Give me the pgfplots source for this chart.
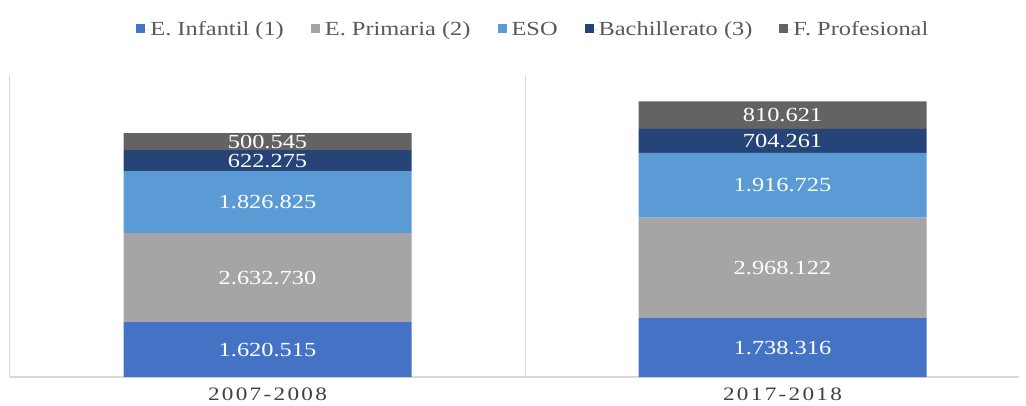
\documentclass[border=0pt]{standalone}
\usepackage{pgfplots}
\usepackage{pgfplotstable}
\pgfplotsset{compat=1.18}
\usepackage{fontspec}
\setmainfont[FakeStretch=1.22]{Liberation Serif}
\definecolor{cInf}{HTML}{4472C4}
\definecolor{cPri}{HTML}{A5A5A5}
\definecolor{cESO}{HTML}{5B9BD5}
\definecolor{cBac}{HTML}{264478}
\definecolor{cFP}{HTML}{636363}
\definecolor{gridgray}{HTML}{D9D9D9}
\definecolor{txtgray}{HTML}{595959}

\pgfplotstableread{
x y label
0 1.620515 1.620.515
1 1.738316 1.738.316
}\infantil
\pgfplotstableread{
x y label
0 2.632730 2.632.730
1 2.968122 2.968.122
}\primaria
\pgfplotstableread{
x y label
0 1.826825 1.826.825
1 1.916725 1.916.725
}\eso
\pgfplotstableread{
x y label
0 0.622275 622.275
1 0.704261 704.261
}\bach
\pgfplotstableread{
x y label
0 0.500545 500.545
1 0.810621 810.621
}\fp

\newcommand{\ls}{\kern2.3pt}
\begin{document}
\begin{tikzpicture}
\begin{axis}[
  scale only axis,
  width=1009.4pt, height=302pt,
  xmin=-0.5, xmax=1.46,
  ymin=0, ymax=8.92,
  ybar stacked,
  bar width=288pt,
  axis y line=none,
  axis x line*=bottom,
  x axis line style={draw=gridgray, line width=1.5pt},
  xtick={0,1},
  xticklabels={{2\ls0\ls0\ls7\ls-\ls2\ls0\ls0\ls8},{2\ls0\ls1\ls7\ls-\ls2\ls0\ls1\ls8}},
  major tick length=0pt,
  xticklabel style={font=\fontsize{19}{22}\selectfont, text=black!75, yshift=-7pt},
  extra x ticks={-0.5,0.5},
  extra x tick labels={},
  extra x tick style={grid=major, major grid style={draw=gridgray, line width=1pt}},
  point meta=explicit symbolic,
  nodes near coords,
  every node near coord/.append style={
    anchor=center, text=white, font=\fontsize{20}{24}\selectfont},
  legend columns=5,
  legend style={draw=none, at={(0.518,1.15)}, anchor=center,
    font=\fontsize{20}{24}\selectfont, text=txtgray,
    nodes={inner ysep=1.5pt, inner xsep=1pt},
    /tikz/every even column/.append style={column sep=26pt}},
  legend image code/.code={\path (0pt,0pt) -- (13pt,0pt); \path[#1, draw=none] (0pt,-3pt) rectangle (9pt,6pt);},
]
\addplot[fill=cInf, draw=none] table[x=x, y=y, meta=label] \infantil;
\addplot[fill=cPri, draw=none] table[x=x, y=y, meta=label] \primaria;
\addplot[fill=cESO, draw=none] table[x=x, y=y, meta=label] \eso;
\addplot[fill=cBac, draw=none] table[x=x, y=y, meta=label] \bach;
\addplot[fill=cFP, draw=none] table[x=x, y=y, meta=label] \fp;
\legend{E. Infantil (1), E. Primaria (2), ESO, Bachillerato (3), F. Profesional}
\end{axis}
\pgfresetboundingbox
\path (current axis.south west) ++(-10pt,-28pt) rectangle ++(1026pt,405pt);
\end{tikzpicture}
\end{document}
